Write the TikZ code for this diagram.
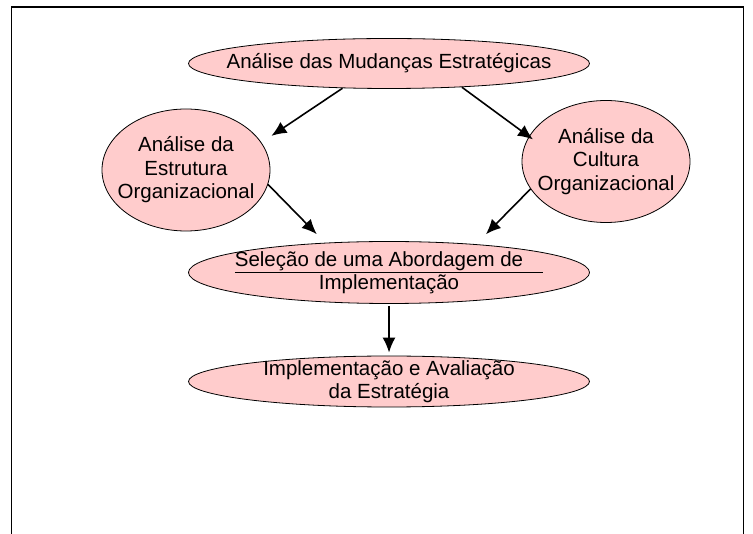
\documentclass[tikz,border=0pt]{standalone}
\usepackage{fontspec}
\setmainfont{Liberation Sans}
\usepackage{xcolor}
\usetikzlibrary{shapes.geometric,arrows.meta}
\definecolor{rosa}{RGB}{255,204,204}
\tikzstyle{etapa}=[ellipse, draw, fill=rosa, line width=.8pt, inner sep=0pt]
\tikzset{texto/.style={align=center, inner sep=0pt, font=\fontsize{20.5}{23.5}\selectfont}}
\tikzset{seta/.style={-{Latex[length=15pt,width=13pt]}, line width=1.6pt}}

\begin{document}
\begin{tikzpicture}[x=1pt,y=-1pt]
  \useasboundingbox (0,0) rectangle (753,534);
  \draw[line width=1.7pt] (11.5,545) -- (11.5,6.8) -- (743.5,6.8) -- (743.5,545);

  \draw (389,63.5) node[etapa,minimum width=401pt,minimum height=50pt,
    label={[texto]center:Análise das Mudanças Estratégicas}] (mud) {};
  \draw (186,170) node[etapa,minimum width=168pt,minimum height=122pt,
    label={[texto]center:Análise da\\Estrutura\\Organizacional}] (est) {};
  \draw (606,161.5) node[etapa,minimum width=168pt,minimum height=122pt,
    label={[texto]center:Análise da\\Cultura\\Organizacional}] (cul) {};
  \draw (389,272.5) node[etapa,minimum width=401pt,minimum height=62pt,
    label={[texto]center:\underline{Seleção de uma Abordagem de\hspace{20pt}}\\Implementação}] (sel) {};
  \draw (389,381.5) node[etapa,minimum width=401pt,minimum height=51pt,
    label={[texto]center:Implementação e Avaliação\\da Estratégia}] (imp) {};

  \draw[seta,shorten >=12pt] (mud.208) -- (est.20);
  \draw[seta,shorten >=-5pt] (mud.342) -- (cul.162);
  \draw[seta,shorten >=12pt] (est.350) -- (sel.155);
  \draw[seta,shorten >=14pt] (cul.200) -- (sel.18);
  \draw[seta,shorten <=2pt,shorten >=3pt] (sel.south) -- (imp.north);
\end{tikzpicture}
\end{document}
